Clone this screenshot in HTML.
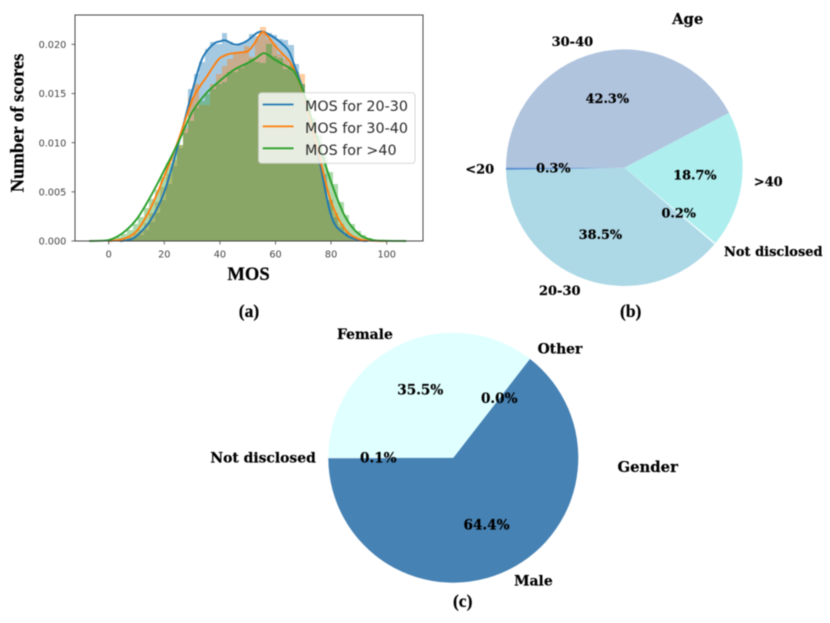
<!DOCTYPE html>
<html lang="en">
<head>
<meta charset="utf-8">
<title>MOS distribution with age and gender pies</title>
<style>
html,body{margin:0;padding:0;background:#fff;}
body{width:830px;height:623px;overflow:hidden;}
#figure{display:block;filter:blur(0.5px);}
.cap{font-family:"Liberation Serif",serif;font-weight:bold;fill:#000;stroke:#000;stroke-width:.2px;}
.tick{font-family:"DejaVu Sans",sans-serif;font-size:9.7px;fill:#444;}
.leg{font-family:"DejaVu Sans",sans-serif;font-size:14.3px;fill:#2a2a2a;}
.pie{font-family:"DejaVu Serif",serif;font-weight:bold;fill:#000;stroke:#000;stroke-width:.2px;}
</style>
</head>
<body>
<svg id="figure" xmlns="http://www.w3.org/2000/svg" width="830" height="623" viewBox="0 0 830 623">
  <g id="hist-panel"></g>
  <rect x="75" y="15" width="348" height="226" fill="none" stroke="#454545" stroke-width="1"/>
  <g id="x-ticks"></g>
  <g id="y-ticks"></g>
  <g>
    <rect x="258.5" y="92.8" width="156.5" height="70.5" rx="3" fill="#fff" fill-opacity="0.8" stroke="#ccc" stroke-opacity="0.8" stroke-width="1"/>
    <line x1="262.7" x2="293.5" y1="104.5" y2="104.5" stroke="#1f77b4" stroke-width="1.8"/>
    <text class="leg" x="305" y="111">MOS for 20-30</text>
    <line x1="262.7" x2="293.5" y1="126.4" y2="126.4" stroke="#ff7f0e" stroke-width="1.8"/>
    <text class="leg" x="305" y="133">MOS for 30-40</text>
    <line x1="262.7" x2="293.5" y1="148.3" y2="148.3" stroke="#2ca02c" stroke-width="1.8"/>
    <text class="leg" x="305" y="155">MOS for &gt;40</text>
  </g>
  <text class="cap" x="248.5" y="280" font-size="18.6" text-anchor="middle">MOS</text>
  <text class="cap" transform="translate(23.5 123) rotate(-90)" font-size="18.6" text-anchor="middle">Number of scores</text>
  <text class="cap" x="249" y="317" font-size="17.5" text-anchor="middle">(a)</text>
  <text class="cap" x="630.7" y="317" font-size="17.5" text-anchor="middle">(b)</text>
  <text class="cap" x="462.7" y="607" font-size="17.5" text-anchor="middle">(c)</text>
  <g id="age-pie"></g>
  <g id="gender-pie"></g>
  <text class="pie" x="687.7" y="24" font-size="14.8" text-anchor="middle">Age</text>
  <text class="pie" x="647.7" y="472" font-size="14.8" text-anchor="middle">Gender</text>
</svg>
<script>
// Tick labels
const xTickValues = [0, 20, 40, 60, 80, 100];
const yTickValues = [0, 0.005, 0.010, 0.015, 0.020];

// Histogram bins: first bin edge, bin width and density per bin
const binWidth = 2;
const blueBinStart = 4.6;
const blueBins = [.0001,.0002,.0004,.0006,.0011,.0019,.0028,.0042,.0058,.0076,.0095,.0118,.0155,.0170,.0182,.0195,.0202,.0200,.0212,.0202,.0198,.0200,.0203,.0211,.0208,.0214,.0212,.0209,.0205,.0204,.0199,.0180,.0160,.0140,.0120,.0095,.0068,.0042,.0024,.0014,.0008,.0004,.0002,.0001];
const orangeBinStart = 2.6;
const orangeBins = [.0001,.0002,.0004,.0008,.0011,.0018,.0028,.0040,.0055,.0068,.0082,.0098,.0115,.0146,.0160,.0138,.0138,.0160,.0170,.0178,.0185,.0190,.0192,.0198,.0187,.0205,.0218,.0205,.0200,.0190,.0185,.0180,.0172,.0170,.0135,.0110,.0085,.0060,.0042,.0028,.0017,.0010,.0005,.0002,.0001];
const greenBinStart = -1.4;
const greenBins = [.0001,.0002,.0004,.0007,.0011,.0017,.0024,.0034,.0043,.0052,.0065,.0079,.0090,.0098,.0110,.0122,.0135,.0142,.0150,.0155,.0160,.0162,.0172,.0172,.0176,.0180,.0185,.0182,.0181,.0200,.0188,.0186,.0175,.0178,.0172,.0160,.0145,.0125,.0108,.0088,.0070,.0058,.0040,.0026,.0017,.0010,.0006,.0003,.0001];

// Density curves
const blueCurveX = [4,7,10,15,20,25,30,33,35,38,40,42,45,47,50,53,55,57,60,63,65,67,70,75,80,85,90,93];
const blueCurveY = [0,.0001,.0005,.0021,.0050,.0098,.0152,.0181,.0192,.0201,.0203,.0204,.0200,.0200,.0204,.0211,.0213,.0211,.0206,.0199,.0192,.0177,.0152,.0093,.0026,.0007,.0001,0];
const orangeCurveX = [0,5,10,15,20,25,30,33,35,38,40,43,45,48,50,52,55,57,60,63,65,67,70,75,80,85,90,95,100];
const orangeCurveY = [0,.0002,.0010,.0033,.0066,.0102,.0143,.0158,.0166,.0179,.0186,.0190,.0191,.0192,.0193,.0199,.0212,.0209,.0198,.0189,.0183,.0172,.0150,.0095,.0040,.0012,.0002,.00003,0];
const greenCurveX = [-7,0,5,10,15,20,25,30,35,40,45,50,53,56,60,65,67,70,75,80,85,90,95,100,107];
const greenCurveY = [0,.0001,.0008,.0022,.0045,.0072,.0100,.0131,.0150,.0163,.0174,.0181,.0186,.0191,.0184,.0176,.0171,.0152,.0105,.0060,.0025,.0007,.0001,.00002,0];

// Pie data, counter-clockwise in the drawing order of the source figure
const ageLabels = ["30-40", "<20", "20-30", "Not disclosed", ">40"];
const ageShares = [42.3, 0.3, 38.5, 0.2, 18.7];
const ageColors = ["#b0c4de", "#5b8fd0", "#add8e6", "#f0ffff", "#afeeee"];
const genderLabels = ["Female", "Not disclosed", "Male", "Other"];
const genderShares = [35.5, 0.1, 64.4, 0.0];
const genderColors = ["#e0ffff", "#b0c4de", "#4682b4", "#ffffff"];

const NS = "http://www.w3.org/2000/svg";
function make(tag, props) {
  const el = document.createElementNS(NS, tag);
  for (const k in props) el.setAttribute(k, props[k]);
  return el;
}

// Axis functions
const xPos = v => 108.7 + v * 2.78;
const yPos = v => 241 - v * 9833;

function curvePath(xs, ys) {
  const pts = xs.map((x, i) => [xPos(x), yPos(ys[i])]);
  let d = "M" + pts[0][0].toFixed(2) + " " + pts[0][1].toFixed(2);
  for (let i = 0; i < pts.length - 1; i++) {
    const p0 = pts[Math.max(i - 1, 0)], p1 = pts[i], p2 = pts[i + 1], p3 = pts[Math.min(i + 2, pts.length - 1)];
    const c1x = p1[0] + (p2[0] - p0[0]) / 6, c1y = p1[1] + (p2[1] - p0[1]) / 6;
    const c2x = p2[0] - (p3[0] - p1[0]) / 6, c2y = p2[1] - (p3[1] - p1[1]) / 6;
    d += "C" + c1x.toFixed(2) + " " + Math.min(c1y, 241).toFixed(2) + " " + c2x.toFixed(2) + " " + Math.min(c2y, 241).toFixed(2) + " " + p2[0].toFixed(2) + " " + p2[1].toFixed(2);
  }
  return d;
}

function drawBars(name, color, binStart, bins) {
  const panel = document.getElementById("hist-panel");
  const g = make("g", { fill: color, "fill-opacity": 0.4 });
  
  
  bins.forEach((v, i) => {
    // Edges snap to whole pixels so neighbouring bars share an edge with no seam.
    const x0 = Math.round(xPos(binStart + i * binWidth));
    const x1 = Math.round(xPos(binStart + (i + 1) * binWidth));
    const top = Math.round(yPos(v));
    const r = make("rect", { x: x0, y: top, width: x1 - x0, height: 241 - top });
    
    
    g.appendChild(r);
  });
  panel.appendChild(g);
}

function drawCurve(name, color, cx, cy) {
  const panel = document.getElementById("hist-panel");
  const line = make("path", { d: curvePath(cx, cy), fill: "none", stroke: color, "stroke-width": 1.9, "stroke-linejoin": "round" });
  
  
  panel.appendChild(line);
}

// Bars sit below all lines, as in the reference where each curve stays vivid.
drawBars("20-30", "#1f77b4", blueBinStart, blueBins);
drawBars("30-40", "#ff7f0e", orangeBinStart, orangeBins);
drawBars("over-40", "#2ca02c", greenBinStart, greenBins);
drawCurve("20-30", "#1f77b4", blueCurveX, blueCurveY);
drawCurve("30-40", "#ff7f0e", orangeCurveX, orangeCurveY);
drawCurve("over-40", "#2ca02c", greenCurveX, greenCurveY);

const xAxis = document.getElementById("x-ticks");
xTickValues.forEach(v => {
  const t = make("line", { x1: xPos(v), x2: xPos(v), y1: 241, y2: 244.5, stroke: "#454545", "stroke-width": 0.8 });
  
  
  xAxis.appendChild(t);
  const l = make("text", { x: xPos(v), y: 257.3, "text-anchor": "middle", class: "tick" });
  
  
  l.textContent = String(v);
  xAxis.appendChild(l);
});
const yAxis = document.getElementById("y-ticks");
yTickValues.forEach(v => {
  const t = make("line", { x1: 71.5, x2: 75, y1: yPos(v), y2: yPos(v), stroke: "#454545", "stroke-width": 0.8 });
  
  
  yAxis.appendChild(t);
  const l = make("text", { x: 66.3, y: yPos(v) + 3.6, "text-anchor": "end", class: "tick" });
  
  
  l.textContent = v.toFixed(3);
  yAxis.appendChild(l);
});

function drawPie(groupId, prefix, labels, shares, colors, layout) {
  const g = document.getElementById(groupId);
  const total = shares.reduce((a, b) => a + b, 0);
  let angle = layout.start;
  const rad = d => d * Math.PI / 180;
  shares.forEach((s, i) => {
    const sweep = s / total * 360, a0 = angle, a1 = angle + sweep, mid = (a0 + a1) / 2;
    angle = a1;
    if (s > 0) {
      const d = "M" + layout.cx + " " + layout.cy +
        "L" + (layout.cx + layout.r * Math.cos(rad(a0))).toFixed(2) + " " + (layout.cy - layout.r * Math.sin(rad(a0))).toFixed(2) +
        "A" + layout.r + " " + layout.r + " 0 " + (sweep > 180 ? 1 : 0) + " 0 " +
        (layout.cx + layout.r * Math.cos(rad(a1))).toFixed(2) + " " + (layout.cy - layout.r * Math.sin(rad(a1))).toFixed(2) + "Z";
      const p = make("path", { d: d, fill: colors[i] });
      
      
      g.insertBefore(p, g.firstChild);
    }
    const c = Math.cos(rad(mid)), n = Math.sin(rad(mid));
    const lab = make("text", {
      x: layout.cx + 1.1 * layout.r * c,
      y: layout.cy - 1.1 * layout.r * n + 4.6,
      "text-anchor": c >= 0 ? "start" : "end",
      "font-size": layout.labelSize, class: "pie"
    });
    
    
    lab.textContent = labels[i];
    g.appendChild(lab);
    const pct = make("text", {
      x: layout.cx + 0.6 * layout.r * c,
      y: layout.cy - 0.6 * layout.r * n + 4.4,
      "text-anchor": "middle",
      "font-size": layout.pctSize, class: "pie"
    });
    
    
    pct.textContent = s.toFixed(1) + "%";
    g.appendChild(pct);
  });
}

drawPie("age-pie", "age", ageLabels, ageShares, ageColors, { cx: 624.3, cy: 167.7, r: 118.3, start: 27.7, labelSize: 13, pctSize: 12.8 });
drawPie("gender-pie", "gender", genderLabels, genderShares, genderColors, { cx: 453.3, cy: 457.7, r: 125, start: 52.2, labelSize: 13.9, pctSize: 13.6 });
</script>
</body>
</html>
